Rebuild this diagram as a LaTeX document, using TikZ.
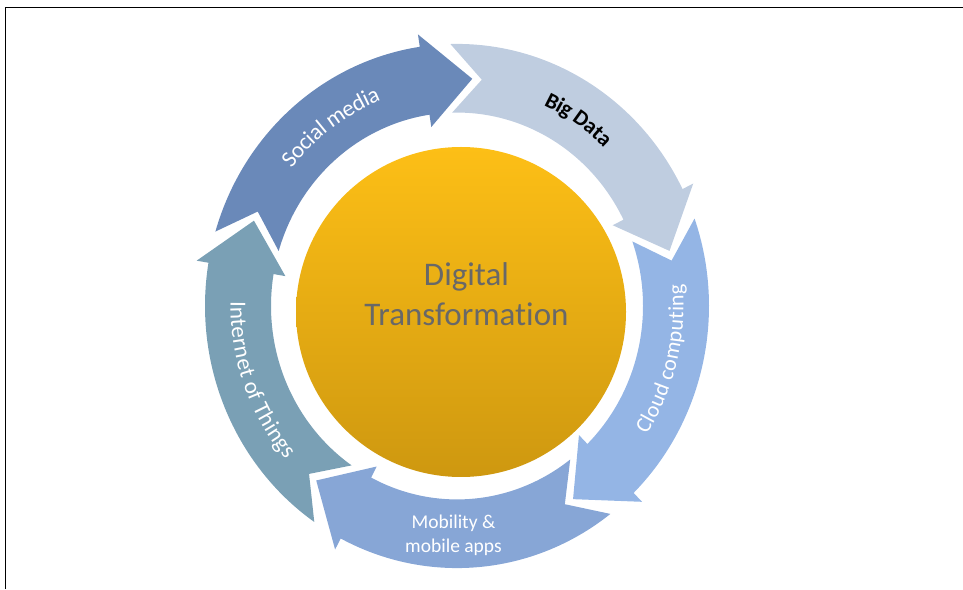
\documentclass[tikz,border=0pt]{standalone}
\usepackage{fontspec}
\setmainfont{Carlito}[Ligatures=NoCommon]
\usetikzlibrary{decorations.text}

\definecolor{socialblue}{RGB}{106,137,185}
\definecolor{bigdatablue}{RGB}{191,205,224}
\definecolor{cloudblue}{RGB}{148,181,229}
\definecolor{mobilityblue}{RGB}{135,166,214}
\definecolor{iotteal}{RGB}{122,160,181}
\definecolor{coretop}{RGB}{253,191,22}
\definecolor{corebottom}{RGB}{206,152,16}
\definecolor{coretext}{RGB}{104,104,104}

\newcommand{\ringfont}{\fontsize{23}{23}\selectfont}
\newcommand{\smallringfont}{\fontsize{22}{22}\selectfont}

\begin{document}
\begin{tikzpicture}[x=1pt, y=1pt]
	\tikzstyle{core} = [circle, minimum size=330pt, inner sep=0pt, top color=coretop, bottom color=corebottom]
	\tikzstyle{coretitle} = [align=center, text=coretext, font=\fontsize{33}{40}\selectfont]
	\tikzstyle{ringlabel} = [align=center, text=white, font=\fontsize{19.5}{24}\selectfont]
	\tikzstyle{ringtext} = [decorate]

	\useasboundingbox (0,0) rectangle (963,589);
	\draw [line width=1.5pt] (5.5,0) -- (5.5,581.5) -- (963,581.5);

	% the five arrows of the cycle: tail angle / tip angle / colour
	\begin{scope}[shift={(457,283)}, yscale=1.04]
		\foreach \tl/\tp/\col in {163.5/86/socialblue, 91.5/14/bigdatablue, 19.5/-58/cloudblue, -52.5/-130/mobilityblue, -124.5/-202/iotteal}{
			\pgfmathsetmacro{\hb}{\tp+12.5}
			\pgfmathsetmacro{\nt}{\tl-8}
			\fill [\col] (\tl:252) arc[start angle=\tl, end angle=\hb, radius=252] -- (\hb:264) -- (\tp:219)
				-- (\hb:174) -- (\hb:186) arc[start angle=\hb, end angle=\tl, radius=186] -- (\nt:219) -- cycle;
		}

		\path [ringtext, decoration={text along path, text align=center, raise=-7.5pt, text color=white,
			text={|\ringfont|Social media}}] (160:219) arc[start angle=160, end angle=92, radius=219];
		\path [ringtext, decoration={text along path, text align=center, raise=-7.5pt, text color=black,
			text={|\smallringfont\bfseries|Big Data}}] (80:219) arc[start angle=80, end angle=32, radius=219];
		\path [ringtext, decoration={text along path, text align=center, raise=-7.5pt, text color=white,
			text={|\smallringfont|Cloud computing}}] (-46:219) arc[start angle=-46, end angle=18, radius=219];
		\path [ringtext, decoration={text along path, text align=center, raise=-7.5pt, text color=white,
			text={|\ringfont|Internet of Things}}] (168:219) arc[start angle=168, end angle=232, radius=219];
	\end{scope}

	\node (mobility) [ringlabel] at (453.5,54) {Mobility \&\\mobile apps};

	\node (core) [core] at (461,277) {};
	\node (title) [coretitle] at (466.5,295) {Digital\\Transformation};
\end{tikzpicture}
\end{document}
